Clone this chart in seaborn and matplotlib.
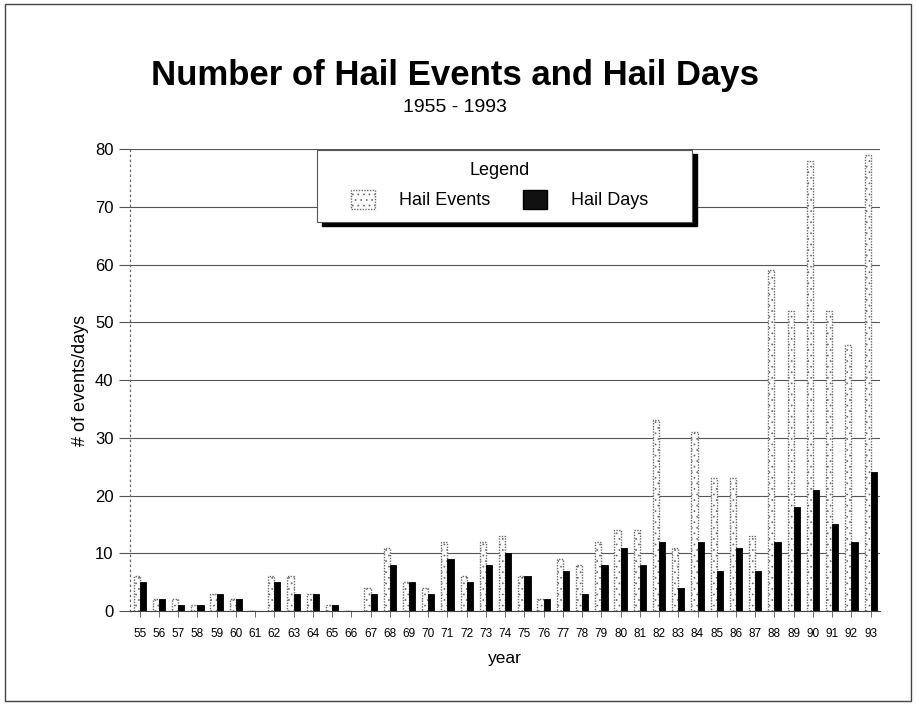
import matplotlib
matplotlib.use("Agg")
import matplotlib.pyplot as plt
import seaborn as sns
import pandas as pd
from matplotlib.patches import Rectangle, Patch

years = ["55", "56", "57", "58", "59", "60", "61", "62", "63", "64",
         "65", "66", "67", "68", "69", "70", "71", "72", "73", "74",
         "75", "76", "77", "78", "79", "80", "81", "82", "83", "84",
         "85", "86", "87", "88", "89", "90", "91", "92", "93"]
hail_events = [6, 2, 2, 1, 3, 2, 0, 6, 6, 3,
               1, 0, 4, 11, 5, 4, 12, 6, 12, 13,
               6, 2, 9, 8, 12, 14, 14, 33, 11, 31,
               23, 23, 13, 59, 52, 78, 52, 46, 79]
hail_days = [5, 2, 1, 1, 3, 2, 0, 5, 3, 3,
             1, 0, 3, 8, 5, 3, 9, 5, 8, 10,
             6, 2, 7, 3, 8, 11, 8, 12, 4, 12,
             7, 11, 7, 12, 18, 21, 15, 12, 24]
series = ["Hail Events", "Hail Days"]
y_ticks = [0, 10, 20, 30, 40, 50, 60, 70, 80]

df = pd.DataFrame({
    "year": years * 2,
    "count": hail_events + hail_days,
    "series": [series[0]] * len(years) + [series[1]] * len(years),
})

sns.set_theme(style="white")
plt.rcParams["font.family"] = ["Liberation Sans", "DejaVu Sans"]
plt.rcParams.update({
    "text.color": "black", "axes.labelcolor": "black",
    "xtick.color": "black", "ytick.color": "black",
    "hatch.color": "#b0b0b0", "hatch.linewidth": 0.5,
})

fig = plt.figure(figsize=(9.16, 7.10), dpi=100)
ax = fig.add_axes([0.142, 0.1394, 0.819, 0.6507])

sns.barplot(data=df, x="year", y="count", hue="series", order=years,
            hue_order=series, palette=["white", "black"], width=0.64,
            dodge=True, legend=False, ax=ax, saturation=1)

# stippled outline for the event bars, solid black for the day bars
n = len(years)
for i, bar in enumerate(ax.patches[:2 * n]):
    if i < n:
        bar.set_edgecolor("#6a6a6a")
        bar.set_linewidth(1.0)
        bar.set_linestyle((0, (1, 1)))
        bar.set_hatch("...")
    else:
        bar.set_edgecolor("black")
        bar.set_linewidth(0.6)

ax.set_xlim(-0.5, n - 0.5)
ax.set_ylim(0, 80)
ax.set_yticks(y_ticks)
ax.yaxis.grid(True, color="#555555", linewidth=0.8)
ax.xaxis.grid(False)
ax.set_axisbelow(True)

for s in ["top", "right"]:
    ax.spines[s].set_visible(False)
ax.spines["left"].set_linestyle((0, (1, 3)))
ax.spines["left"].set_color("#666666")
ax.spines["left"].set_linewidth(0.9)
ax.spines["bottom"].set_color("#444444")
ax.spines["bottom"].set_linewidth(0.8)

ax.tick_params(axis="y", which="major", length=8, width=0.8, color="#555555",
               labelsize=12, pad=4, left=True)
ax.tick_params(axis="x", which="major", length=4, width=0.6, color="#555555",
               labelsize=8.5, pad=8, bottom=True)

ax.set_xlabel("year", fontsize=12.5, labelpad=8)
ax.set_ylabel("# of events/days", fontsize=13, labelpad=4)

fig.text(0.497, 0.880, "Number of Hail Events and Hail Days", ha="center",
         va="baseline", fontsize=25, fontweight="bold")
fig.text(0.497, 0.842, "1955 - 1993", ha="center", va="baseline", fontsize=14)

# legend box with a solid drop shadow
box_x0, box_x1, box_y0, box_y1 = 0.2493, 0.7493, 0.842, 0.9978
ax.add_patch(Rectangle((box_x0 + 0.006, box_y0 - 0.009), box_x1 - box_x0,
                       box_y1 - box_y0, transform=ax.transAxes, facecolor="black",
                       edgecolor="black", zorder=9, clip_on=False))
ax.add_patch(Rectangle((box_x0, box_y0), box_x1 - box_x0, box_y1 - box_y0,
                       transform=ax.transAxes, facecolor="white",
                       edgecolor="#555555", linewidth=0.8, zorder=9.5,
                       clip_on=False))

handles = [
    Patch(facecolor="white", edgecolor="#6a6a6a", hatch="...",
          linestyle=(0, (1, 1)), linewidth=1.0),
    Patch(facecolor="#111111", edgecolor="black"),
]
leg = ax.legend(handles, series, title="Legend", ncol=2, loc="center",
                bbox_to_anchor=(0.493, 0.921), fontsize=13, title_fontsize=13,
                frameon=False, handlelength=1.33, handleheight=1.28,
                handletextpad=1.33, columnspacing=1.83, borderpad=0.2,
                labelspacing=0.6, borderaxespad=0)
leg.set_zorder(10)

# thin frame around the whole figure
fig.patches.append(Rectangle((0.006, 0.012), 0.988, 0.982, transform=fig.transFigure,
                             fill=False, edgecolor="#444444", linewidth=1.0))

fig.savefig("out.png", dpi=100)
